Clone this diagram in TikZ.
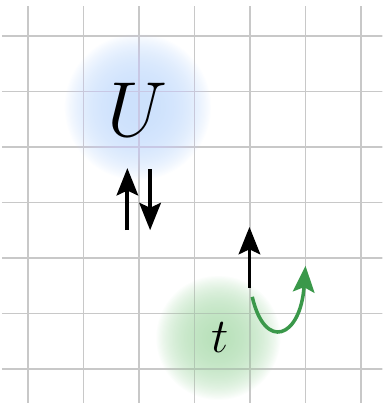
\RequirePackage{fix-cm}
\documentclass[tikz,border=0pt]{standalone}
\usetikzlibrary{arrows.meta}
\definecolor{gridgray}{RGB}{200,200,200}
\definecolor{blobblue}{RGB}{200,222,252}
\definecolor{blobgreen}{RGB}{178,222,180}
\definecolor{arrowgreen}{RGB}{58,152,74}
\begin{document}
\begin{tikzpicture}[x=1cm,y=1cm,
  gridline/.style={gridgray, line width=1pt},
  spin/.style={black, line width=2pt, -{Stealth[length=14pt,width=11pt,inset=2.5pt]}},
  hop/.style={arrowgreen, line width=1.8pt, -{Stealth[length=13.5pt,width=11pt,inset=2.5pt]}},
  glow/.style={fill opacity=0.042}]
\useasboundingbox (-0.505,-0.613) rectangle (6.384,6.649);
\clip (-0.505,-0.613) rectangle (6.384,6.649);
\foreach \i in {0,...,6} {
  \draw[gridline] (\i,-0.7) -- (\i,6.54);
  \draw[gridline] (-0.47,\i) -- (6.5,\i);
}
\foreach \r in {0.2,0.22,...,1.34}
  \fill[blobblue, glow] (1.98,4.72) circle (\r);
\foreach \r in {0.16,0.18,...,1.12}
  \fill[blobgreen, glow] (3.43,0.56) circle (\r);
\node (U) at (1.97,4.67) {\fontsize{40}{48}\selectfont $U$};
\node (t) at (3.46,0.56) {\fontsize{25}{30}\selectfont $t$};
\coordinate (upS) at (1.79,2.50);
\coordinate (upE) at (1.79,3.62);
\coordinate (dnS) at (2.20,3.60);
\coordinate (dnE) at (2.20,2.50);
\coordinate (rS) at (3.99,1.46);
\coordinate (rE) at (3.99,2.56);
\coordinate (gS) at (4.04,1.30);
\coordinate (gE) at (5.00,1.86);
\draw[spin] (upS) -- (upE);
\draw[spin] (dnS) -- (dnE);
\draw[spin] (rS) -- (rE);
\draw[hop] (gS) .. controls (4.27,0.31) and (4.91,0.56) .. (gE);
\end{tikzpicture}
\end{document}
